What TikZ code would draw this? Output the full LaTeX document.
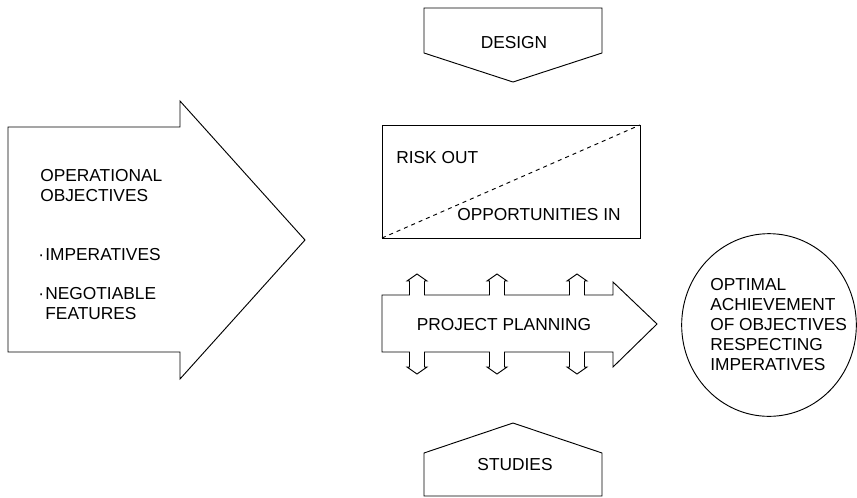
\documentclass[tikz,border=0pt]{standalone}
\usepackage{fontspec}
\setmainfont{Liberation Sans}
\usetikzlibrary{shapes.geometric}

\begin{document}
\begin{tikzpicture}[
    x = 0.75pt, y = -0.75pt,
    every node/.style = {
      font = \fontsize{13}{15}\selectfont, inner sep = 0pt
    },
    outline/.style = { draw, line width = 0.7pt, line join = miter },
    divider/.style = { dashed, line width = 0.7pt }
  ]
  \useasboundingbox (0, 0) rectangle (857, 497);

  % big input arrow
  \draw[outline] (8, 127) -- (180, 127) -- (180, 101) -- (305, 240)
    -- (180, 379) -- (180, 352) -- (8, 352) -- cycle;
  \node[anchor = north west, align = left] (objectives) at (40, 169)
    {OPERATIONAL\\OBJECTIVES};
  \node[anchor = north west] (imperatives) at (38, 248)
    {\textperiodcentered\kern1pt IMPERATIVES};
  \node[anchor = north west, align = left] (negotiable) at (38, 287)
    {\textperiodcentered\kern1pt NEGOTIABLE\\
     \hphantom{\textperiodcentered\kern1pt}FEATURES};

  % design and studies
  \draw[outline] (424, 8) -- (602, 8) -- (602, 53) -- (513, 82)
    -- (424, 53) -- cycle;
  \node (design) at (514, 43) {DESIGN};
  \draw[outline] (424, 496) -- (424, 453) -- (513, 423) -- (602, 453)
    -- (602, 496) -- cycle;
  \node (studies) at (515, 465) {STUDIES};

  % risk box
  \draw[outline] (382, 125) rectangle (640, 238);
  \draw[divider] (382, 238) -- (640, 125);
  \node[anchor = base west] (risk) at (396, 163) {RISK OUT};
  \node[anchor = base west] (opportunities) at (457, 220)
    {OPPORTUNITIES IN};

  % planning arrow
  \draw[outline] (382, 295)
    foreach \x in {417, 497, 577} {
      -- (\x-7.5, 295) -- (\x-7.5, 281) -- (\x-10, 281) -- (\x, 274)
      -- (\x+10, 281) -- (\x+7.5, 281) -- (\x+7.5, 295)
    }
    -- (613, 295) -- (613, 282) -- (657, 324) -- (613, 367) -- (613, 352)
    foreach \x in {577, 497, 417} {
      -- (\x+7.5, 352) -- (\x+7.5, 367) -- (\x+10, 367) -- (\x, 374)
      -- (\x-10, 367) -- (\x-7.5, 367) -- (\x-7.5, 352)
    }
    -- (382, 352) -- cycle;
  \node (planning) at (504, 325) {PROJECT PLANNING};

  % outcome
  \node[outline, ellipse, minimum width = 131pt, minimum height = 137pt]
    (goal) at (769, 325) {};
  \node[anchor = north west, align = left] (goaltext) at (710, 278)
    {OPTIMAL\\ACHIEVEMENT\\OF OBJECTIVES\\RESPECTING\\IMPERATIVES};
\end{tikzpicture}
\end{document}
